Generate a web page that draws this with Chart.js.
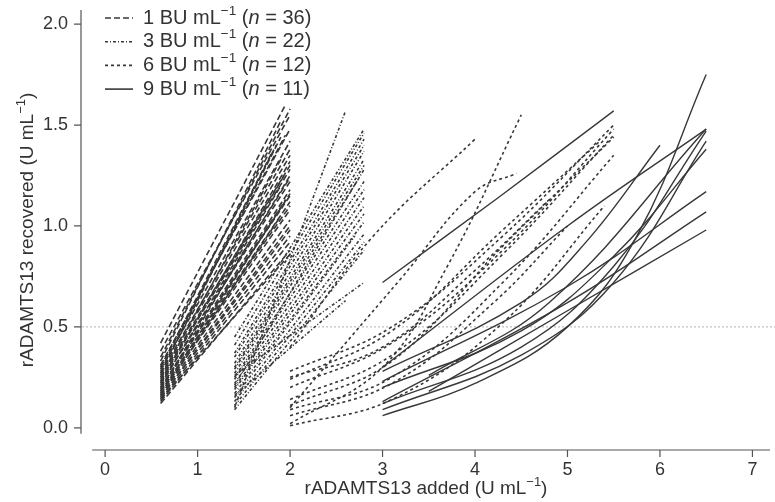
<!DOCTYPE html>
<html>
<head>
<meta charset="utf-8">
<script src="https://cdn.jsdelivr.net/npm/chart.js@4/dist/chart.umd.min.js"></script>
<style>
  html, body { margin: 0; padding: 0; background: #fff; }
  #chart { display: block; }
</style>
</head>
<body>
<canvas id="chart" width="775" height="502"></canvas>
<script>
// ---------- data ----------

// 1 BU/mL inhibitor (n = 36): every line starts at 0.6 U/mL added
const bu1StartX = 0.6;
const bu1StartY = [0.42, 0.38, 0.35, 0.33, 0.31, 0.30, 0.29, 0.28, 0.27, 0.26, 0.25, 0.25,
                   0.24, 0.23, 0.22, 0.22, 0.21, 0.20, 0.20, 0.19, 0.18, 0.18, 0.17, 0.16,
                   0.16, 0.15, 0.15, 0.14, 0.13, 0.12, 0.30, 0.27, 0.23, 0.19, 0.17, 0.14];
const bu1EndX = [1.95, 2.0, 2.0, 1.9, 2.0, 1.95, 2.0, 1.85, 2.0, 2.0, 1.9, 2.0,
                 2.0, 1.95, 2.0, 2.0, 1.9, 2.0, 2.0, 1.95, 2.0, 2.0, 2.0, 1.9,
                 2.0, 2.0, 2.0, 2.0, 2.0, 2.0, 1.8, 1.9, 2.0, 2.0, 2.0, 2.0];
const bu1EndY = [1.60, 1.55, 1.58, 1.52, 1.48, 1.45, 1.42, 1.40, 1.38, 1.35, 1.33, 1.30,
                 1.28, 1.26, 1.24, 1.22, 1.20, 1.18, 1.15, 1.13, 1.12, 1.10, 1.08, 1.05,
                 1.03, 1.00, 0.98, 0.95, 0.92, 0.88, 1.36, 1.44, 1.32, 1.25, 1.16, 0.86];

// 3 BU/mL inhibitor (n = 22): lines start at 1.4 U/mL added
const bu3StartX = 1.4;
const bu3StartY = [0.10, 0.45, 0.41, 0.37, 0.35, 0.32, 0.30, 0.29, 0.27, 0.25, 0.24,
                   0.22, 0.20, 0.19, 0.17, 0.15, 0.13, 0.11, 0.09, 0.26, 0.21, 0.16];
const bu3EndX = [2.6, 2.8, 2.8, 2.8, 2.8, 2.8, 2.8, 2.8, 2.75, 2.8, 2.8,
                 2.8, 2.8, 2.8, 2.8, 2.7, 2.8, 2.8, 2.8, 2.8, 2.8, 2.6];
const bu3EndY = [1.57, 1.48, 1.46, 1.43, 1.40, 1.37, 1.33, 1.30, 1.24, 1.22, 1.18,
                 1.14, 1.10, 1.06, 1.02, 0.95, 0.96, 0.92, 0.88, 0.72, 1.28, 0.63];

// 6 BU/mL inhibitor (n = 12)
const bu6X = [
  [2.0, 2.9, 4.0],
  [2.0, 3.0, 3.7, 4.5],
  [2.0, 3.2, 4.0, 4.45],
  [2.0, 3.1, 4.3, 5.5],
  [2.0, 3.1, 4.3, 5.5],
  [2.0, 3.1, 4.3, 5.5],
  [2.0, 3.1, 4.3, 5.5],
  [2.0, 3.1, 4.3, 5.35],
  [2.0, 3.1, 4.3, 5.4],
  [2.0, 3.1, 4.2, 5.0],
  [2.0, 3.1, 4.3, 5.5],
  [2.0, 3.0, 4.0, 4.8]
];
const bu6Y = [
  [0.40, 0.95, 1.43],
  [0.02, 0.30, 0.80, 1.55],
  [0.10, 0.74, 1.17, 1.26],
  [0.28, 0.50, 0.95, 1.50],
  [0.20, 0.42, 0.88, 1.48],
  [0.14, 0.36, 0.86, 1.45],
  [0.09, 0.25, 0.72, 1.35],
  [0.24, 0.48, 0.98, 1.42],
  [0.01, 0.14, 0.52, 1.10],
  [0.06, 0.22, 0.62, 1.00],
  [0.11, 0.33, 0.90, 1.44],
  [0.25, 0.40, 0.78, 1.13]
];

// 9 BU/mL inhibitor (n = 11)
const bu9X = [
  [3.0, 4.25, 5.5],
  [3.0, 5.0, 6.5],
  [3.0, 4.5, 5.2, 6.0],
  [3.0, 5.0, 6.5],
  [3.0, 5.0, 6.5],
  [3.5, 5.0, 6.5],
  [3.0, 4.0, 5.0, 5.75, 6.5],
  [3.0, 4.5, 5.5, 6.5],
  [3.0, 4.5, 5.5, 6.5],
  [3.0, 4.5, 5.5, 6.5],
  [3.5, 4.8, 6.5]
];
const bu9Y = [
  [0.72, 1.14, 1.57],
  [0.30, 1.00, 1.48],
  [0.28, 0.62, 0.92, 1.40],
  [0.23, 0.70, 1.17],
  [0.13, 0.62, 1.07],
  [0.18, 0.58, 0.98],
  [0.06, 0.22, 0.50, 0.95, 1.75],
  [0.12, 0.40, 0.80, 1.47],
  [0.09, 0.36, 0.72, 1.42],
  [0.20, 0.48, 0.85, 1.38],
  [0.26, 0.62, 1.48]
];

const xTicks = [0, 1, 2, 3, 4, 5, 6, 7];
const yTicks = [0, 0.5, 1, 1.5, 2];
const yTickLabels = ["0.0", "0.5", "1.0", "1.5", "2.0"];
const legendDoses = ["1", "3", "6", "9"];
const legendCounts = ["36", "22", "12", "11"];
const refLevel = 0.5;

// ---------- styles ----------
const ink = "#383838";
const dashes = [[6, 3], [3, 2, 1, 2], [3, 3], []];
const FONT = '"Liberation Sans", Arial, Helvetica, sans-serif';

function lineSet(xs, ys, dash) {
  return {
    data: xs.map((x, i) => ({ x: x, y: ys[i] })),
    showLine: true,
    borderColor: ink,
    borderWidth: dash.length ? 1.6 : 1.4,
    borderDash: dash,
    pointRadius: 0,
    fill: false,
    tension: 0.4,
  };
}

const datasets = [];
bu1StartY.forEach((y, i) => datasets.push(lineSet([bu1StartX, bu1EndX[i]], [y, bu1EndY[i]], dashes[0])));
bu3StartY.forEach((y, i) => datasets.push(lineSet([bu3StartX, bu3EndX[i]], [y, bu3EndY[i]], dashes[1])));
bu6X.forEach((xs, i) => datasets.push(lineSet(xs, bu6Y[i], dashes[2])));
bu9X.forEach((xs, i) => datasets.push(lineSet(xs, bu9Y[i], dashes[3])));

// text with superscripts / italics: parts = [{t, sup, it}]
function richWidth(ctx, parts, size) {
  let w = 0;
  parts.forEach(p => {
    ctx.font = (p.it ? "italic " : "") + (p.sup ? size * 0.68 : size) + "px " + FONT;
    w += ctx.measureText(p.t).width;
  });
  return w;
}
function drawRich(ctx, parts, x, y, size, align) {
  let cx = x;
  if (align === "center") cx -= richWidth(ctx, parts, size) / 2;
  ctx.textBaseline = "middle";
  ctx.textAlign = "left";
  parts.forEach(p => {
    ctx.font = (p.it ? "italic " : "") + (p.sup ? size * 0.68 : size) + "px " + FONT;
    ctx.fillText(p.t, cx, p.sup ? y - size * 0.36 : y);
    cx += ctx.measureText(p.t).width;
  });
}

const rAxes = {
  id: "rAxes",
  beforeDatasetsDraw(chart) {
    const { ctx, chartArea, scales } = chart;
    const py = scales.y.getPixelForValue(refLevel);
    ctx.save();
    ctx.strokeStyle = "#b0b0b0";
    ctx.lineWidth = 1;
    ctx.setLineDash([2, 2]);
    ctx.beginPath();
    ctx.moveTo(chartArea.left, py);
    ctx.lineTo(chart.width, py);
    ctx.stroke();
    ctx.restore();
  },
  afterDraw(chart) {
    const { ctx, chartArea, scales } = chart;
    const xs = scales.x, ys = scales.y;
    ctx.save();
    ctx.strokeStyle = "#555";
    ctx.fillStyle = "#333";
    ctx.lineWidth = 1.2;

    // y axis
    const ax = chartArea.left - 1;
    ctx.beginPath();
    ctx.moveTo(ax, ys.getPixelForValue(2.07));
    ctx.lineTo(ax, ys.getPixelForValue(-0.03));
    yTicks.forEach(v => {
      const p = ys.getPixelForValue(v);
      ctx.moveTo(ax, p);
      ctx.lineTo(ax - 7, p);
    });
    ctx.stroke();
    ctx.font = "18px " + FONT;
    ctx.textAlign = "right";
    ctx.textBaseline = "middle";
    yTicks.forEach((v, i) => ctx.fillText(yTickLabels[i], ax - 13, ys.getPixelForValue(v)));

    // x axis
    const ay = chartArea.bottom;
    ctx.beginPath();
    ctx.moveTo(xs.getPixelForValue(-0.14), ay);
    ctx.lineTo(chartArea.right, ay);
    xTicks.forEach(v => {
      const p = xs.getPixelForValue(v);
      ctx.moveTo(p, ay);
      ctx.lineTo(p, ay + 7);
    });
    ctx.stroke();
    ctx.textAlign = "center";
    ctx.textBaseline = "top";
    xTicks.forEach(v => ctx.fillText(String(v), xs.getPixelForValue(v), ay + 11));

    // axis titles
    const unit = [{ t: " (U mL" }, { t: "\u22121", sup: true }, { t: ")" }];
    drawRich(ctx, [{ t: "rADAMTS13 added" }].concat(unit),
      (chartArea.left + chartArea.right) / 2, chart.height - 13, 19, "center");
    ctx.save();
    ctx.translate(28, (chartArea.top + chartArea.bottom) / 2);
    ctx.rotate(-Math.PI / 2);
    drawRich(ctx, [{ t: "rADAMTS13 recovered" }].concat(unit), 0, 0, 19, "center");
    ctx.restore();

    // legend
    legendDoses.forEach((d, i) => {
      const y = 18 + i * 23.7;
      ctx.save();
      ctx.strokeStyle = ink;
      ctx.lineWidth = 1.6;
      ctx.setLineDash(dashes[i]);
      ctx.beginPath();
      ctx.moveTo(105, y);
      ctx.lineTo(133, y);
      ctx.stroke();
      ctx.restore();
      drawRich(ctx, [
        { t: d + " BU mL" }, { t: "\u22121", sup: true }, { t: " (" },
        { t: "n", it: true }, { t: " = " + legendCounts[i] + ")" }
      ], 143, y, 20, "left");
    });
    ctx.restore();
  }
};

new Chart(document.getElementById("chart"), {
  type: "scatter",
  data: { datasets: datasets },
  options: {
    responsive: false,
    animation: false,
    devicePixelRatio: 1,
    layout: { padding: { left: 82, right: 5, top: 10, bottom: 52 } },
    plugins: { legend: { display: false }, tooltip: { enabled: false } },
    scales: {
      x: { type: "linear", min: -0.25, max: 7.19, display: false },
      y: { type: "linear", min: -0.11, max: 2.07, display: false }
    }
  },
  plugins: [rAxes]
});
</script>
</body>
</html>
